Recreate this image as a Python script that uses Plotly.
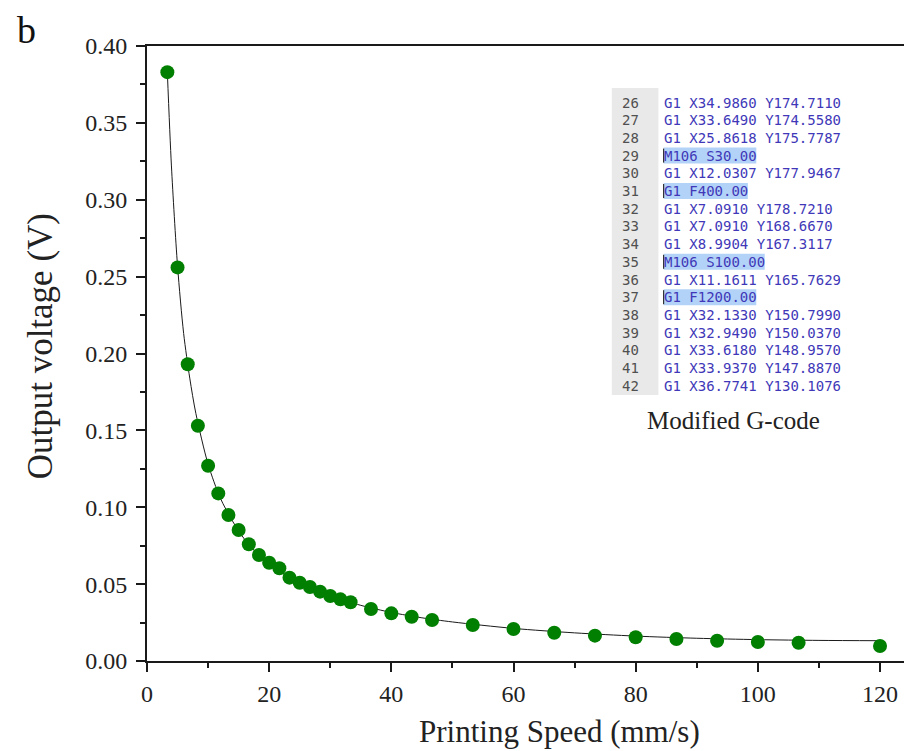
import plotly.graph_objects as go

# ---- data ----
speed = [3.33, 5.00, 6.67, 8.33, 10.00, 11.67, 13.33, 15.00, 16.67, 18.33, 20.00,
         21.67, 23.33, 25.00, 26.67, 28.33, 30.00, 31.67, 33.33, 36.67, 40.00,
         43.33, 46.67, 53.33, 60.00, 66.67, 73.33, 80.00, 86.67, 93.33, 100.00,
         106.67, 120.00]
voltage = [0.383, 0.256, 0.193, 0.153, 0.127, 0.109, 0.095, 0.0852, 0.0759, 0.0689,
           0.0639, 0.0603, 0.0542, 0.0509, 0.0481, 0.0451, 0.0423, 0.0401, 0.0382,
           0.0338, 0.0310, 0.0288, 0.0267, 0.0234, 0.0208, 0.0184, 0.0165, 0.0154,
           0.0143, 0.0132, 0.0124, 0.0119, 0.0098]

fit_x = [3.33, 4.0, 5.0, 6.0, 7.0, 8.0, 10, 12, 14, 16, 18, 20, 23, 26, 30, 35, 40,
         45, 50, 60, 70, 80, 90, 100, 110, 120]
fit_y = [0.383, 0.322, 0.257, 0.213, 0.184, 0.161, 0.128, 0.106, 0.091, 0.079, 0.070,
         0.063, 0.0550, 0.0490, 0.0425, 0.0362, 0.0316, 0.0281, 0.0254, 0.0212, 0.0183,
         0.0162, 0.0148, 0.0139, 0.0134, 0.0132]

line_numbers = list(range(26, 43))
gcode_lines = [
    "G1 X34.9860 Y174.7110",
    "G1 X33.6490 Y174.5580",
    "G1 X25.8618 Y175.7787",
    "M106 S30.00",
    "G1 X12.0307 Y177.9467",
    "G1 F400.00",
    "G1 X7.0910 Y178.7210",
    "G1 X7.0910 Y168.6670",
    "G1 X8.9904 Y167.3117",
    "M106 S100.00",
    "G1 X11.1611 Y165.7629",
    "G1 F1200.00",
    "G1 X32.1330 Y150.7990",
    "G1 X32.9490 Y150.0370",
    "G1 X33.6180 Y148.9570",
    "G1 X33.9370 Y147.8870",
    "G1 X36.7741 Y130.1076",
]
highlighted = [29, 31, 35, 37]

x_ticks = [0, 20, 40, 60, 80, 100, 120]
y_ticks = [0.00, 0.05, 0.10, 0.15, 0.20, 0.25, 0.30, 0.35, 0.40]

# ---- layout geometry (pixels) ----
W, H = 904, 751
L, R, T, B = 146.7, 904.0, 46.0, 661.0
PW, PH = R - L, B - T


def px(x):
    return (x - L) / PW


def py(y):
    return (B - y) / PH


SERIF = "Liberation Serif"
MONO = "DejaVu Sans Mono"
TICKFONT = dict(family=SERIF, size=24, color="#222222")

fig = go.Figure()
fig.add_trace(go.Scatter(x=fit_x, y=fit_y, mode="lines",
                         line=dict(color="#1a1a1a", width=1, shape="spline", smoothing=0.8),
                         hoverinfo="skip", showlegend=False))
fig.add_trace(go.Scatter(x=speed, y=voltage, mode="markers",
                         marker=dict(color="#007f00", size=14, line=dict(width=0)),
                         showlegend=False))

xaxis = dict(range=[0, PW / 6.111], tickmode="array", tickvals=x_ticks, ticktext=[str(v) for v in x_ticks],
             mirror=True, showgrid=False, zeroline=False, showline=True, linecolor="#1a1a1a", linewidth=2,
             ticks="outside", ticklen=9, tickwidth=1.5, tickcolor="#1a1a1a", tickfont=TICKFONT,
             ticklabelstandoff=1,
             minor=dict(dtick=10, tick0=0, ticks="outside", ticklen=5, tickwidth=1.5, tickcolor="#1a1a1a"))
yaxis = dict(range=[0, 0.40], tickmode="array", tickvals=y_ticks, ticktext=["%.2f" % v for v in y_ticks],
             showgrid=False, zeroline=False, showline=True, linecolor="#1a1a1a", linewidth=2,
             ticks="outside", ticklen=9, tickwidth=1.5, tickcolor="#1a1a1a", tickfont=TICKFONT,
             ticklabelstandoff=4,
             minor=dict(dtick=0.025, tick0=0, ticks="outside", ticklen=5, tickwidth=1.5, tickcolor="#1a1a1a"))

shapes = []
annotations = []

# gutter of the code inset
shapes.append(dict(type="rect", xref="paper", yref="paper", x0=px(611.7), x1=px(658.3), y0=py(395), y1=py(88),
                   fillcolor="#e9e9e9", line=dict(width=0), layer="below"))

row0 = 102.5
dy = 17.7
char_w = 8.43
code_x = 663.5
for i, (n, code) in enumerate(zip(line_numbers, gcode_lines)):
    yc = row0 + i * dy
    if n in highlighted:
        shapes.append(dict(type="rect", xref="paper", yref="paper", x0=px(code_x), x1=px(code_x + len(code) * char_w),
                           y0=py(yc + 8), y1=py(yc - 8), fillcolor="#b3d2f7", line=dict(width=0), layer="below"))
        shapes.append(dict(type="line", xref="paper", yref="paper", x0=px(code_x), x1=px(code_x),
                           y0=py(yc + 7), y1=py(yc - 7), line=dict(color="#333333", width=1.2)))
    annotations.append(dict(text=str(n), xref="paper", yref="paper", x=px(622), y=py(yc), xanchor="left",
                            yanchor="middle", showarrow=False, borderpad=0, borderwidth=0,
                            font=dict(family=MONO, size=14, color="#505050")))
    annotations.append(dict(text=code, xref="paper", yref="paper", x=px(code_x), y=py(yc), xanchor="left",
                            yanchor="middle", showarrow=False, borderpad=0, borderwidth=0,
                            font=dict(family=MONO, size=14, color="#4038b8")))

annotations.append(dict(text="Modified G-code", xref="paper", yref="paper", x=px(733), y=py(420),
                        xanchor="center", yanchor="middle", showarrow=False,
                        font=dict(family=SERIF, size=25, color="#222222")))
annotations.append(dict(text="b", xref="paper", yref="paper", x=px(26), y=py(30),
                        xanchor="center", yanchor="middle", showarrow=False,
                        font=dict(family=SERIF, size=38, color="#111111")))
annotations.append(dict(text="Printing Speed (mm/s)", xref="paper", yref="paper", x=px(559), y=py(731),
                        xanchor="center", yanchor="middle", showarrow=False,
                        font=dict(family=SERIF, size=31, color="#222222")))
annotations.append(dict(text="Output voltage (V)", xref="paper", yref="paper", x=px(40), y=py(346),
                        xanchor="center", yanchor="middle", showarrow=False, textangle=-90,
                        font=dict(family=SERIF, size=35, color="#222222")))

fig.update_layout(width=W, height=H, margin=dict(l=L, r=W - R, t=T, b=H - B, pad=0),
                  font=dict(family=SERIF, size=24, color="#222222"),
                  plot_bgcolor="white", paper_bgcolor="white",
                  xaxis=xaxis, yaxis=yaxis,
                  shapes=shapes, annotations=annotations)

fig.write_html("out.html")
